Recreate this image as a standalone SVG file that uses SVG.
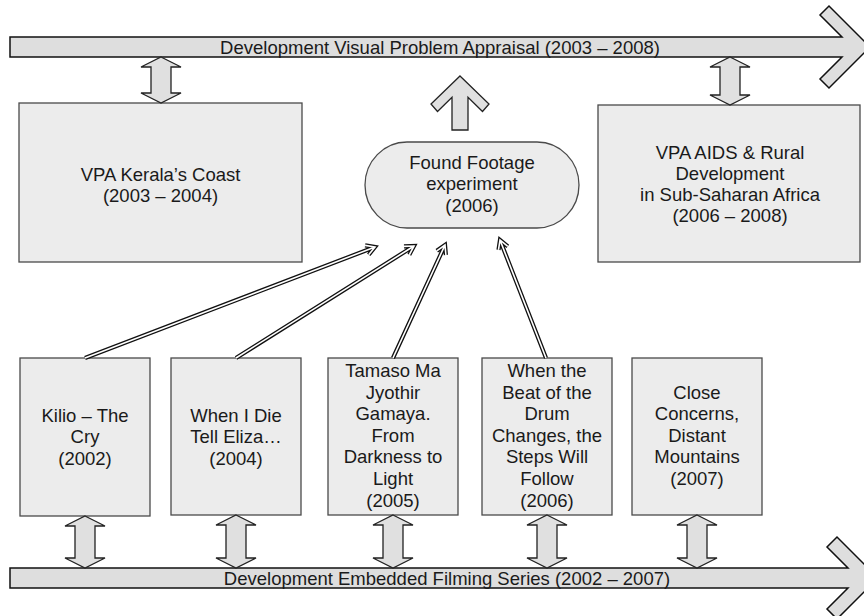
<svg xmlns="http://www.w3.org/2000/svg" width="864" height="616" viewBox="0 0 864 616">
<style>
text{font-family:"Liberation Sans",Arial,sans-serif;font-size:18.5px;fill:#1a1a1a;text-anchor:middle}
.box{fill:#ececec;stroke:#4a4a4a;stroke-width:1.3}
.band{fill:#dedede;stroke:#111;stroke-width:1.5;stroke-linejoin:miter}
.dbl{fill:#e0e0e0;stroke:#222;stroke-width:1.3}
.co{fill:none;stroke:#111;stroke-width:4.2;stroke-linejoin:miter;stroke-linecap:butt}
.ci{fill:none;stroke:#fff;stroke-width:1.6;stroke-linejoin:miter;stroke-linecap:butt}
</style>
<rect width="864" height="616" fill="#fff"/>

<g id="band-vpa">
<polygon class="band" points="10,37 842,37 820,15 829,6 870,47 829,88 820,79 842,57 10,57"/>
<text x="440" y="53.5">Development Visual Problem Appraisal (2003 – 2008)</text>
</g>

<g id="band-def">
<polygon class="band" points="10,568 848,568 827,547 837,537 878,578 837,619 827,609 848,588 10,588"/>
<text x="447" y="584.5">Development Embedded Filming Series (2002 – 2007)</text>
</g>

<g id="kerala">
<rect class="box" x="19" y="103" width="283" height="159"/>
<text x="160.5" y="181">VPA Kerala’s Coast</text>
<text x="160.5" y="202">(2003 – 2004)</text>
</g>

<g id="aids">
<rect class="box" x="598" y="105" width="262" height="157"/>
<text x="730" y="159">VPA AIDS &amp; Rural</text>
<text x="730" y="180">Development</text>
<text x="730" y="201">in Sub-Saharan Africa</text>
<text x="730" y="222">(2006 – 2008)</text>
</g>

<g id="found-footage">
<rect class="box" x="365" y="142" width="214" height="86" rx="42" ry="43"/>
<text x="472" y="169">Found Footage</text>
<text x="472" y="190">experiment</text>
<text x="472" y="211.5">(2006)</text>
</g>

<g id="up-arrow">
<polygon class="dbl" points="460,76 489,104 482.5,111.5 468,97.3 468,130 452,130 452,97.3 437.5,111.5 431,104"/>
</g>

<g id="kilio">
<rect class="box" x="20" y="358" width="130" height="158"/>
<text x="85" y="421.7">Kilio – The</text>
<text x="85" y="443.3">Cry</text>
<text x="85" y="465">(2002)</text>
</g>

<g id="eliza">
<rect class="box" x="171" y="358" width="130" height="157"/>
<text x="236" y="421.7">When I Die</text>
<text x="236" y="443.3">Tell Eliza…</text>
<text x="236" y="465">(2004)</text>
</g>

<g id="tamaso">
<rect class="box" x="328" y="358" width="130" height="157"/>
<text x="393" y="377">Tamaso Ma</text>
<text x="393" y="398.6">Jyothir</text>
<text x="393" y="420.2">Gamaya.</text>
<text x="393" y="441.8">From</text>
<text x="393" y="463.4">Darkness to</text>
<text x="393" y="485">Light</text>
<text x="393" y="506.6">(2005)</text>
</g>

<g id="drum">
<rect class="box" x="482" y="358" width="130" height="157"/>
<text x="547" y="377">When the</text>
<text x="547" y="398.6">Beat of the</text>
<text x="547" y="420.2">Drum</text>
<text x="547" y="441.8">Changes, the</text>
<text x="547" y="463.4">Steps Will</text>
<text x="547" y="485">Follow</text>
<text x="547" y="506.6">(2006)</text>
</g>

<g id="close-concerns">
<rect class="box" x="632" y="358" width="130" height="157"/>
<text x="697" y="398.6">Close</text>
<text x="697" y="420.2">Concerns,</text>
<text x="697" y="441.8">Distant</text>
<text x="697" y="463.4">Mountains</text>
<text x="697" y="485">(2007)</text>
</g>

<g id="connectors">
<polygon class="dbl" points="161,57 181,67 171,67 171,93 181,93 161,103 141,93 151,93 151,67 141,67"/>
<polygon class="dbl" points="730,57 750,67 740,67 740,95 750,95 730,105 710,95 720,95 720,67 710,67"/>
<polygon class="dbl" points="85,516 105,526 95,526 95,558 105,558 85,568 65,558 75,558 75,526 65,526"/>
<polygon class="dbl" points="236,515 256,525 246,525 246,558 256,558 236,568 216,558 226,558 226,525 216,525"/>
<polygon class="dbl" points="393,515 413,525 403,525 403,558 413,558 393,568 373,558 383,558 383,525 373,525"/>
<polygon class="dbl" points="547,515 567,525 557,525 557,558 567,558 547,568 527,558 537,558 537,525 527,525"/>
<polygon class="dbl" points="697,515 717,525 707,525 707,558 717,558 697,568 677,558 687,558 687,525 677,525"/>

<path class="co" d="M85,358 L375,247 M368.7,254.8 L375,247 L365.1,245.4"/>
<path class="ci" d="M85,358 L375,247 M368.7,254.8 L375,247 L365.1,245.4"/>
<path class="co" d="M236,358 L414,246 M409.3,254.8 L414,246 L404,246.4"/>
<path class="ci" d="M236,358 L414,246 M409.3,254.8 L414,246 L404,246.4"/>
<path class="co" d="M393,358 L445,245 M445.9,255 L445,245 L436.8,250.8"/>
<path class="ci" d="M393,358 L445,245 M445.9,255 L445,245 L436.8,250.8"/>
<path class="co" d="M546,358 L500,240 M507.8,246.3 L500,240 L498.5,249.9"/>
<path class="ci" d="M546,358 L500,240 M507.8,246.3 L500,240 L498.5,249.9"/>
</g>
</svg>
